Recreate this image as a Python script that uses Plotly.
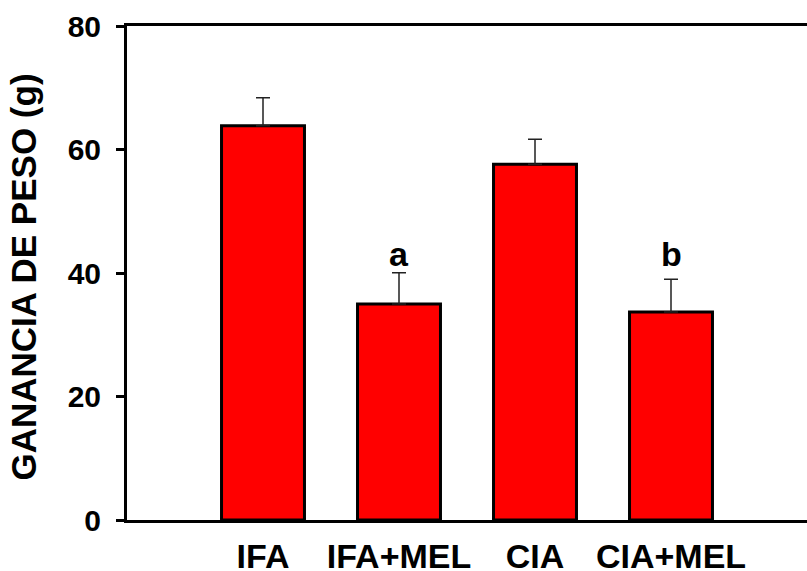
import plotly.graph_objects as go

categories = ["IFA", "IFA+MEL", "CIA", "CIA+MEL"]
values = [63.85, 35.0, 57.6, 33.7]
errors = [4.55, 5.05, 4.05, 5.3]
letters = ["", "a", "", "b"]
letter_y = 41.0
y_ticks = [0, 20, 40, 60, 80]
y_title = "GANANCIA DE PESO (g)"

FONT = "Arial, Liberation Sans, sans-serif"

fig = go.Figure()
fig.add_trace(go.Bar(
    x=categories,
    y=values,
    width=0.61,
    marker=dict(color="#ff0000", line=dict(color="black", width=3)),
    error_y=dict(type="data", array=errors, arrayminus=[0] * len(errors),
                 symmetric=False, color="#222222", thickness=1.5, width=7),
    showlegend=False,
))

for cat, v, e, lab in zip(categories, values, errors, letters):
    if lab:
        fig.add_annotation(x=cat, y=letter_y, text=f"<b>{lab}</b>", showarrow=False,
                           xref="x", yref="y", yanchor="bottom", yshift=-8,
                           font=dict(family=FONT, size=34, color="black"))

fig.add_annotation(text=f"<b>{y_title}</b>", xref="paper", yref="paper",
                   x=(23 - 127) / 680, y=(520 - 277.5) / 494, xanchor="center", yanchor="middle",
                   textangle=-90, showarrow=False,
                   font=dict(family=FONT, size=35, color="black"))

fig.update_layout(
    width=807, height=571,
    margin=dict(l=127, r=0, t=26, b=51, autoexpand=False),
    paper_bgcolor="white", plot_bgcolor="white",
    xaxis=dict(
        type="category", range=[-1, 4], automargin=False,
        showline=True, linecolor="black", linewidth=3, mirror=True,
        ticks="", showgrid=False, zeroline=False,
        tickfont=dict(family=FONT, size=34, color="black", weight="bold"),
        ticklabelstandoff=4,
    ),
    yaxis=dict(
        range=[0, 80], tickvals=y_ticks, automargin=False,
        showline=True, linecolor="black", linewidth=3,
        ticks="outside", ticklen=8, tickwidth=3, tickcolor="black",
        showgrid=False, zeroline=False,
        tickfont=dict(family=FONT, size=30, color="black", weight="bold"),
        ticklabelstandoff=9,
    ),
)

fig.write_html("out.html", config={"displayModeBar": False},
               post_script="document.body.style.margin='0';document.body.style.overflow='hidden';")
